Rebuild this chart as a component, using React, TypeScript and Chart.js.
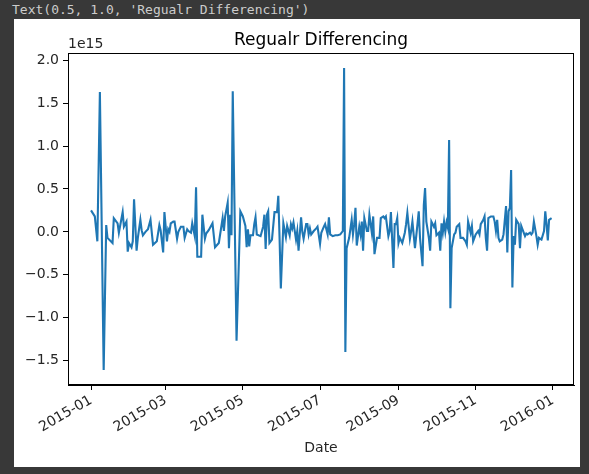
import { useEffect, useRef } from "react"
import { Chart, registerables, type ChartConfiguration, type Plugin } from "chart.js"

Chart.register(...registerables)

// days since 2015-01-01
const dayOfYear = [
  0, 3, 5, 7, 10, 12, 13, 17, 18, 21, 22, 25, 26, 28, 29, 30, 32, 33, 34, 36, 37, 39, 40, 41, 43, 45, 47, 49,
  52, 54, 55, 57, 58, 60, 61, 62, 63, 65, 66, 68, 69, 71, 73, 74, 76, 77, 79, 80, 82, 83, 84, 87, 88, 90, 91,
  93, 96, 98, 101, 104, 105, 106, 108, 109, 110, 111, 112, 115, 118, 120, 122, 123, 124, 125, 126, 128, 129,
  130, 131, 134, 136, 137, 138, 139, 140, 141, 143, 145, 147, 148, 149, 150, 152, 154, 155, 157, 158, 159, 160,
  162, 163, 164, 166, 167, 168, 170, 171, 172, 173, 174, 176, 178, 179, 181, 182, 184, 185, 187, 188, 189, 191,
  193, 195, 197, 199, 200, 201, 202, 204, 206, 207, 208, 209, 210, 212, 213, 214, 215, 216, 218, 219, 220, 222,
  223, 224, 226, 228, 229, 231, 232, 233, 235, 236, 237, 239, 240, 241, 242, 243, 244, 246, 248, 249, 250, 252,
  253, 254, 256, 258, 259, 260, 262, 263, 264, 265, 267, 268, 269, 271, 272, 273, 275, 276, 277, 278, 279, 280,
  281, 282, 283, 284, 285, 287, 288, 289, 291, 292, 294, 296, 297, 298, 300, 301, 302, 303, 304, 306, 307, 308,
  310, 311, 312, 313, 314, 316, 318, 319, 320, 321, 322, 323, 325, 326, 328, 329, 330, 331, 332, 333, 334, 335,
  336, 338, 339, 340, 341, 343, 344, 345, 347, 348, 349, 350, 352, 353, 354, 356, 358, 359, 360, 361, 362, 364,
]

// differenced values, in units of 1e15
const diffValues = [
  0.25, 0.18, -0.11, 1.63, -1.61, 0.08, -0.07, -0.13, 0.16, 0.1, -0.01, 0.23, 0.06, 0.12, -0.23, -0.13, -0.18,
  -0.11, 0.38, -0.22, -0.07, 0.14, 0.02, -0.04, 0.0, 0.03, 0.14, -0.15, -0.11, 0.08, 0.02, -0.24, 0.23, -0.11,
  0.03, 0.0, 0.1, 0.12, 0.12, -0.08, 0.0, 0.06, 0.06, -0.07, 0.03, 0.01, -0.01, 0.1, -0.05, 0.52, -0.29, -0.29,
  0.2, -0.08, -0.02, 0.02, 0.1, -0.18, -0.13, 0.16, 0.01, 0.18, 0.34, -0.19, 0.2, -0.04, 1.64, -1.27, 0.24, 0.18,
  0.07, -0.18, 0.03, -0.17, -0.04, -0.04, 0.09, 0.17, -0.03, -0.05, 0.06, 0.2, -0.2, 0.2, 0.24, -0.13, -0.09,
  0.23, 0.23, 0.42, -0.07, -0.66, 0.1, -0.06, 0.07, -0.04, 0.09, 0.04, 0.11, -0.09, 0.01, -0.22, 0.17, 0.0,
  -0.08, 0.09, 0.09, -0.03, 0.04, -0.03, 0.01, 0.04, 0.06, -0.14, -0.01, 0.06, 0.09, -0.03, 0.17, -0.03, -0.05,
  -0.04, -0.04, -0.03, 0.01, 1.91, -1.4, -0.19, -0.07, 0.14, -0.03, 0.09, 0.28, -0.16, 0.06, -0.03, 0.12, -0.22,
  0.16, 0.01, 0.01, 0.2, -0.02, 0.18, -0.26, -0.07, -0.07, 0.16, 0.18, 0.16, 0.18, -0.05, 0.01, 0.23, -0.42,
  0.09, 0.09, 0.16, -0.13, -0.07, -0.13, -0.01, 0.09, 0.22, -0.08, 0.01, 0.12, -0.19, 0.09, 0.24, -0.07, -0.4,
  0.31, 0.51, 0.12, -0.07, -0.22, 0.12, 0.06, 0.1, -0.04, -0.01, -0.22, 0.1, -0.01, 0.12, 0.0, 0.11, 0.05, 1.07,
  -0.89, -0.19, -0.03, -0.01, 0.06, 0.09, -0.07, -0.07, -0.11, -0.15, 0.12, -0.01, 0.07, -0.11, -0.07, -0.03,
  0.01, -0.03, 0.09, 0.14, 0.18, -0.07, -0.22, 0.16, 0.18, 0.18, 0.12, 0.01, 0.14, -0.07, -0.11, -0.09, -0.03,
  0.3, -0.24, 0.24, 0.28, 0.72, -0.65, -0.05, -0.15, 0.14, 0.09, -0.19, 0.07, 0.03, -0.05, -0.02, -0.03, -0.01,
  -0.03, -0.01, 0.12, -0.05, -0.15, -0.07, -0.09, 0.01, 0.24, 0.09, -0.1, 0.14, 0.16,
]

const monthTicks = [0, 59, 120, 181, 243, 304, 365]
const monthLabels = ["2015-01", "2015-03", "2015-05", "2015-07", "2015-09", "2015-11", "2016-01"]
const yTicks = [-1.5, -1.0, -0.5, 0.0, 0.5, 1.0, 1.5, 2.0]

const FONT = "'DejaVu Sans', sans-serif"

// matplotlib-like frame, title and offset text
const decorations: Plugin<"line"> = {
  id: "decorations",
  afterDraw(chart) {
    const { ctx, chartArea } = chart
    ctx.save()
    ctx.strokeStyle = "#000"
    ctx.lineWidth = 1
    ctx.strokeRect(chartArea.left + 0.5, chartArea.top + 0.5, chartArea.width - 1, chartArea.height - 1)
    ctx.fillStyle = "#000"
    ctx.font = `17px ${FONT}`
    ctx.textAlign = "center"
    ctx.textBaseline = "alphabetic"
    ctx.fillText("Regualr Differencing", (chartArea.left + chartArea.right) / 2, chartArea.top - 8)
    ctx.font = `14px ${FONT}`
    ctx.textAlign = "left"
    ctx.fillStyle = "#262626"
    ctx.fillText("1e15", chartArea.left, chartArea.top - 5)
    ctx.restore()
  },
}

function DiffChart() {
  const canvasRef = useRef<HTMLCanvasElement>(null)
  const chartRef = useRef<Chart | null>(null)

  useEffect(() => {
    if (!canvasRef.current) return
    const ctx = canvasRef.current.getContext("2d")
    if (!ctx) return
    if (chartRef.current) chartRef.current.destroy()

    const config: ChartConfiguration<"line"> = {
      type: "line",
      data: {
        datasets: [
          {
            data: dayOfYear.map((d, i) => ({ x: d, y: diffValues[i] })),
            borderColor: "#1f77b4",
            borderWidth: 2.1,
            pointRadius: 0,
            tension: 0,
            fill: false,
          },
        ],
      },
      options: {
        animation: false,
        responsive: false,
        devicePixelRatio: 1,
        layout: { padding: { top: 34, right: 6, left: 0, bottom: 0 } },
        plugins: {
          legend: { display: false },
          tooltip: { enabled: false },
          title: { display: false },
        },
        scales: {
          x: {
            type: "linear",
            min: -18.2,
            max: 381.7,
            afterBuildTicks: (scale) => {
              scale.ticks = monthTicks.map((v) => ({ value: v }))
            },
            afterFit: (scale) => {
              scale.height = 82
            },
            ticks: {
              autoSkip: false,
              minRotation: 30,
              maxRotation: 30,
              padding: 2,
              color: "#262626",
              font: { family: FONT, size: 14 },
              callback: (v) => monthLabels[monthTicks.indexOf(Number(v))] ?? "",
            },
            grid: { drawOnChartArea: false, drawTicks: true, tickLength: 5, tickColor: "#000" },
            border: { display: true, color: "#000" },
            title: {
              display: true,
              text: "Date",
              color: "#262626",
              font: { family: FONT, size: 14 },
              padding: { top: 0, bottom: 10 },
            },
          },
          y: {
            min: -1.786,
            max: 2.086,
            afterBuildTicks: (scale) => {
              scale.ticks = yTicks.map((v) => ({ value: v }))
            },
            afterFit: (scale) => {
              scale.width = 54
            },
            ticks: {
              padding: 4,
              color: "#262626",
              font: { family: FONT, size: 14 },
              callback: (v) => Number(v).toFixed(1).replace("-", "\u2212"),
            },
            grid: { drawOnChartArea: false, drawTicks: true, tickLength: 5, tickColor: "#000" },
            border: { display: true, color: "#000" },
          },
        },
      },
      plugins: [decorations],
    }

    chartRef.current = new Chart(ctx, config)
    return () => {
      if (chartRef.current) {
        chartRef.current.destroy()
        chartRef.current = null
      }
    }
  }, [])

  return <canvas ref={canvasRef} width={566} height={448} style={{ display: "block" }} />
}

export default function App() {
  return (
    <div style={{ position: "fixed", inset: 0, background: "#383838" }}>
      <div
        style={{
          position: "absolute",
          left: 12,
          top: 2,
          color: "#cccccc",
          font: "13px 'DejaVu Sans Mono', monospace",
          whiteSpace: "pre",
        }}
      >
        Text(0.5, 1.0, 'Regualr Differencing')
      </div>
      <div style={{ position: "absolute", left: 14, top: 19, width: 566, height: 448, background: "#fff" }}>
        <DiffChart />
      </div>
    </div>
  )
}
